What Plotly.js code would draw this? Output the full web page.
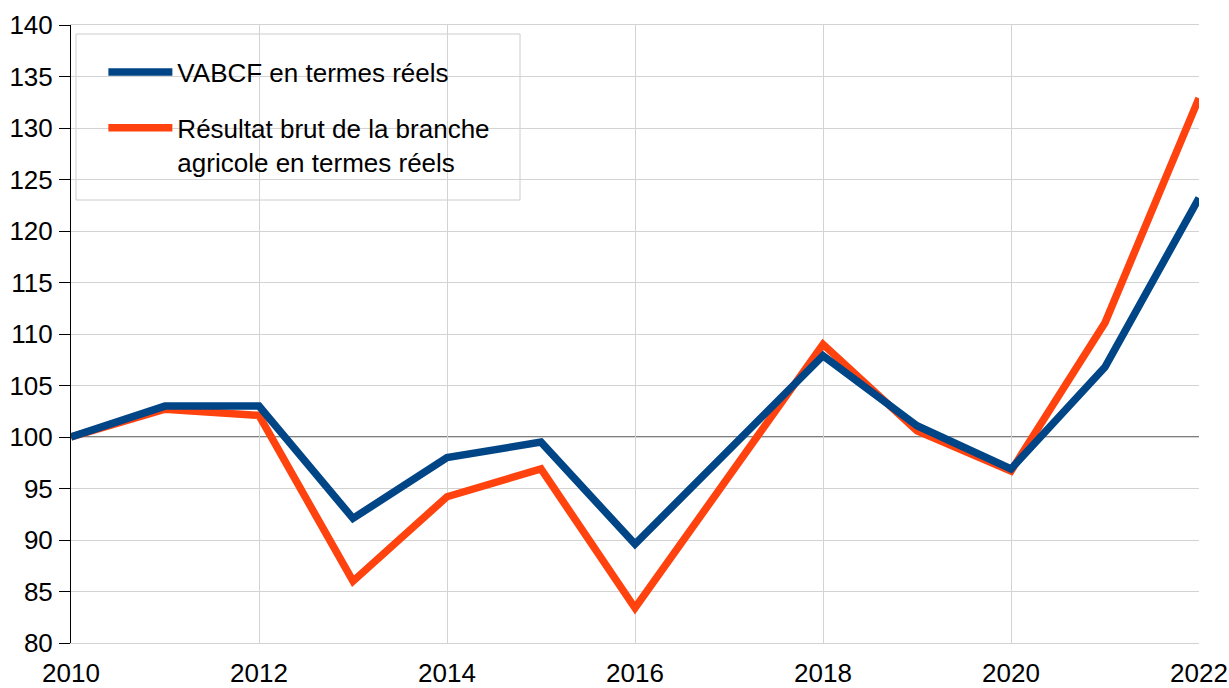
<!DOCTYPE html>
<html>
<head>
<meta charset="utf-8">
<script src="https://cdn.plot.ly/plotly-3.0.1.min.js"></script>
<style>
  html, body { margin: 0; padding: 0; background: #ffffff; }
  #chart { width: 1229px; height: 688px; }
</style>
</head>
<body>
<div id="chart"></div>
<script>
// ---- Data ----
const years = [2010, 2011, 2012, 2013, 2014, 2015, 2016, 2017, 2018, 2019, 2020, 2021, 2022];
const vabcf = [100, 103.0, 103.0, 92.1, 98.0, 99.5, 89.6, 98.8, 107.9, 101.1, 96.9, 106.8, 123.2];
const resultatBrut = [100, 102.7, 102.1, 86.0, 94.2, 96.9, 83.4, 96.3, 109.0, 100.6, 96.7, 111.1, 132.9];
const seriesNames = ["VABCF en termes réels", "Résultat brut de la branche<br>agricole en termes réels"];
const xTickVals = [2010, 2012, 2014, 2016, 2018, 2020, 2022];
const yTickVals = [80, 85, 90, 95, 100, 105, 110, 115, 120, 125, 130, 135, 140];
const baseValue = 100;

const FONT = "Liberation Sans, Arial, sans-serif";

const traces = [
  {
    x: years, y: resultatBrut, name: seriesNames[1], type: "scatter", mode: "lines",
    line: { color: "#ff420e", width: 7.5 }, legendgroup: "b", legendrank: 2, hoverinfo: "x+y"
  },
  {
    x: years, y: vabcf, name: seriesNames[0], type: "scatter", mode: "lines",
    line: { color: "#004586", width: 7.5 }, legendgroup: "a", legendrank: 1, hoverinfo: "x+y"
  }
];

const layout = {
  width: 1229, height: 688,
  margin: { l: 71, r: 30, t: 25, b: 45, pad: 0 },
  paper_bgcolor: "#ffffff", plot_bgcolor: "#ffffff",
  font: { family: FONT, size: 26, color: "#000000" },
  showlegend: true,
  legend: {
    x: 0.0287, y: 0.962, xanchor: "left", yanchor: "top",
    bgcolor: "rgba(0,0,0,0)", borderwidth: 0,
    font: { family: FONT, size: 26, color: "#000000" },
    traceorder: "grouped", tracegroupgap: 19,
    itemwidth: 64, valign: "top"
  },
  xaxis: {
    range: [2010, 2022], tickvals: xTickVals, ticktext: xTickVals.map(String),
    showgrid: true, gridcolor: "#d3d3d3", gridwidth: 1,
    showline: true, linecolor: "#d3d3d3", linewidth: 1, mirror: true,
    zeroline: false, ticks: "", ticklabelstandoff: 7,
    tickfont: { family: FONT, size: 26, color: "#000000" }, fixedrange: true
  },
  yaxis: {
    range: [80, 140], tickvals: yTickVals,
    showgrid: true, gridcolor: "#d3d3d3", gridwidth: 1,
    showline: true, linecolor: "#000000", linewidth: 1,
    zeroline: false, ticks: "outside", ticklen: 11, tickcolor: "#000000", tickwidth: 1,
    ticklabelstandoff: 1,
    tickfont: { family: FONT, size: 26, color: "#000000" }, fixedrange: true
  },
  shapes: [
    { type: "line", xref: "paper", x0: 0, x1: 1, yref: "y", y0: baseValue, y1: baseValue,
      line: { color: "#000000", width: 1 }, layer: "between" },
    { type: "rect", xref: "paper", yref: "paper",
      x0: (76 - 71) / 1128, x1: (520 - 71) / 1128,
      y0: (643 - 200) / 618, y1: (643 - 34) / 618,
      fillcolor: "#ffffff", line: { color: "#cccccc", width: 1 }, layer: "between" }
  ]
};

Plotly.newPlot("chart", traces, layout, { displayModeBar: false, staticPlot: true });
</script>
</body>
</html>
